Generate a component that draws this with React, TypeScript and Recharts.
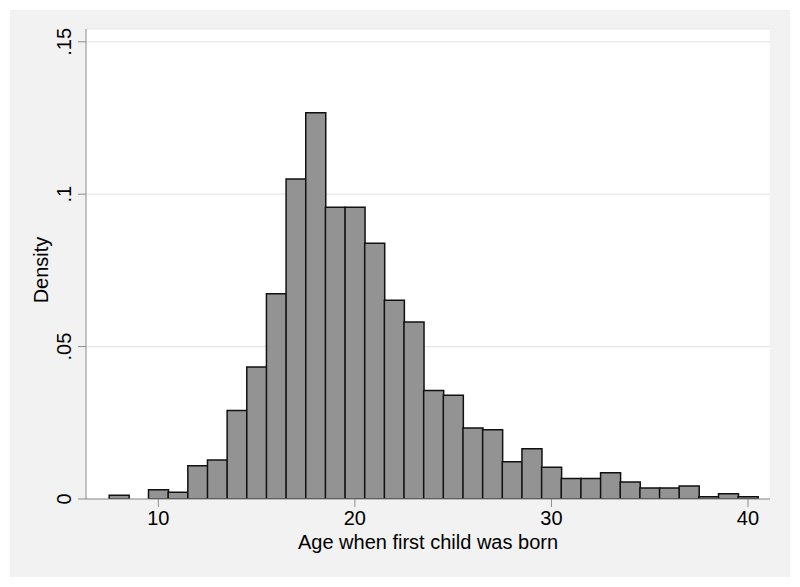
import { Bar, BarChart, CartesianGrid, XAxis, YAxis } from "recharts";

const ages = [8, 9, 10, 11, 12, 13, 14, 15, 16, 17, 18, 19, 20, 21, 22, 23, 24, 25, 26, 27, 28, 29, 30, 31, 32, 33, 34, 35, 36, 37, 38, 39, 40];
const densities = [
  0.0012, 0, 0.003, 0.0022, 0.0109, 0.0128, 0.029, 0.0433, 0.0673, 0.105, 0.1267,
  0.0957, 0.0957, 0.0839, 0.0652, 0.0581, 0.0356, 0.034, 0.0233, 0.0227, 0.0122,
  0.0165, 0.0104, 0.0067, 0.0067, 0.0086, 0.0056, 0.0036, 0.0036, 0.0043, 0.0007,
  0.0017, 0.0007
];
const xTicks = [10, 20, 30, 40];
const yTicks = [0, 0.05, 0.1, 0.15];
const yTickLabels = ["0", ".05", ".1", ".15"];
const xTitle = "Age when first child was born";
const yTitle = "Density";

const rows = ages.map((age, i) => ({ age, density: densities[i] }));

const FONT = "'Liberation Sans', Arial, sans-serif";

function YTick(props: any): JSX.Element {
  const { x, y, payload } = props;
  const idx = yTicks.indexOf(payload.value);
  return (
    <text
      x={x}
      y={y}
      transform={`rotate(-90, ${x}, ${y})`}
      textAnchor="middle"
      fontFamily={FONT}
      fontSize={20}
      fill="#000"
    >
      {idx >= 0 ? yTickLabels[idx] : payload.value}
    </text>
  );
}

function XTitle(props: any): JSX.Element {
  const { x, y, width } = props.viewBox;
  return (
    <text x={x + width / 2} y={y + 50} textAnchor="middle" fontFamily={FONT} fontSize={20} fill="#000">
      {xTitle}
    </text>
  );
}

function YTitle(props: any): JSX.Element {
  const { x, y, height } = props.viewBox;
  const cx = x + 22;
  const cy = y + height / 2 + 6;
  return (
    <text
      x={cx}
      y={cy}
      transform={`rotate(-90, ${cx}, ${cy})`}
      textAnchor="middle"
      fontFamily={FONT}
      fontSize={20}
      fill="#000"
    >
      {yTitle}
    </text>
  );
}

export default function App(): JSX.Element {
  return (
    <div style={{ position: "absolute", left: 0, top: 0, width: 800, height: 587, background: "#fff" }}>
      <div style={{ position: "absolute", left: 10, top: 10, width: 780, height: 567, background: "#f2f2f2" }} />
      <div style={{ position: "absolute", left: 86, top: 29, width: 684, height: 470, background: "#fff" }} />
      <div style={{ position: "absolute", left: 0, top: 0 }}>
        <BarChart
          width={800}
          height={587}
          data={rows}
          margin={{ top: 29, right: 30, bottom: 28, left: 26 }}
          barCategoryGap={0}
          barGap={0}
        >
          <CartesianGrid horizontal vertical={false} stroke="#e6e6e6" strokeWidth={1.2} />
          <XAxis
            dataKey="age"
            type="number"
            domain={[6.32, 41.12]}
            ticks={xTicks}
            allowDataOverflow
            height={60}
            tickSize={8}
            tickMargin={4}
            stroke="#8c8c8c"
            tick={{ fill: "#000", fontSize: 20, fontFamily: FONT }}
            label={<XTitle />}
          />
          <YAxis
            type="number"
            domain={[0, 0.1542]}
            ticks={yTicks}
            allowDataOverflow
            width={60}
            tickSize={8}
            tickMargin={7}
            stroke="#8c8c8c"
            tick={<YTick />}
            label={<YTitle />}
          />
          <Bar dataKey="density" fill="#939393" stroke="#111" strokeWidth={1.5} isAnimationActive={false} />
        </BarChart>
      </div>
    </div>
  );
}
